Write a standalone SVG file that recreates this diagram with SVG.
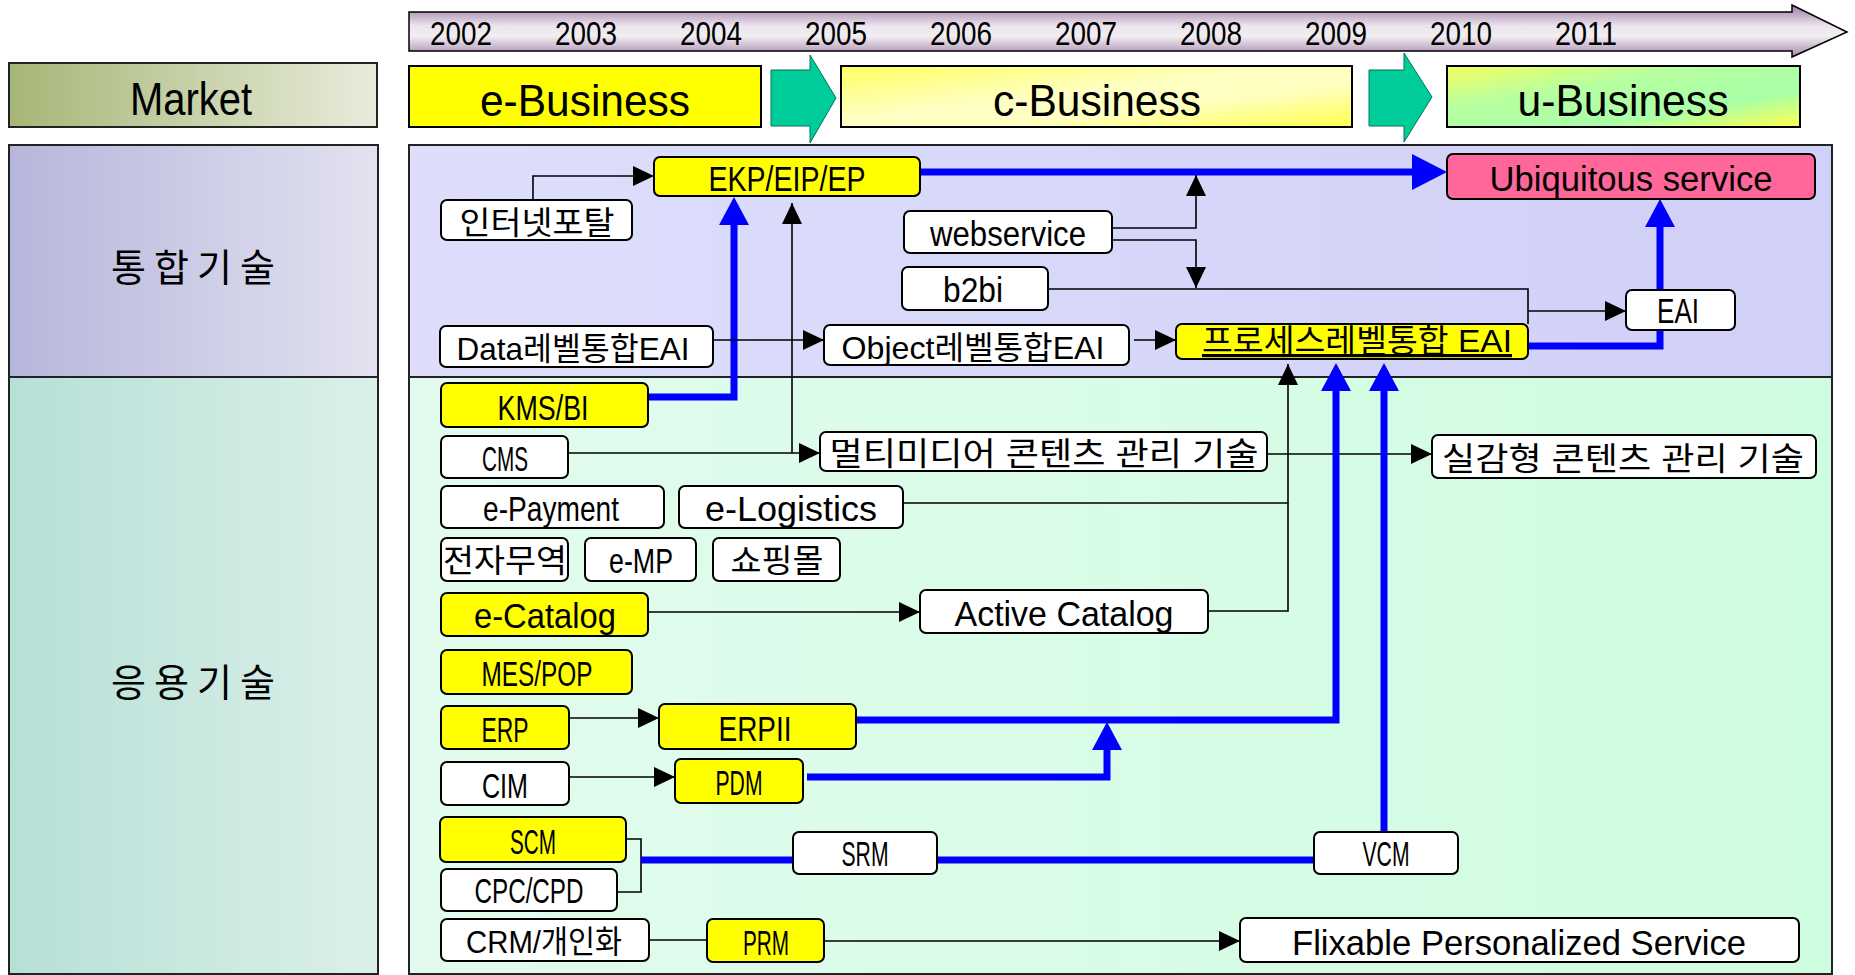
<svg xmlns="http://www.w3.org/2000/svg" width="1855" height="975" viewBox="0 0 1855 975">
<defs>
<style>
.t{font-family:"Liberation Sans","Noto Sans CJK KR",sans-serif;font-size:32px;fill:#000;text-anchor:middle}
.l{font-size:35px}
.yr{font-family:"Liberation Sans",sans-serif;font-size:33px;fill:#000;text-anchor:middle}
.hd{font-family:"Liberation Sans",sans-serif;font-size:45px;fill:#000;text-anchor:middle}
.lb{font-family:"Noto Sans CJK KR","Liberation Sans",sans-serif;font-size:38px;fill:#000;text-anchor:middle}
.bx{stroke:#000;stroke-width:2}
.w{fill:#fff}
.y{fill:#ffff00}
.pk{fill:#ff6699}
.ln{stroke:#000;stroke-width:1.6;fill:none}
.bl{stroke:#0000ff;stroke-width:7;fill:none}
.pnl{stroke:#222;stroke-width:2}
.ga{fill:#00cc99;stroke:#007755;stroke-width:1}
</style>
<linearGradient id="gMk" x1="0" y1="0" x2="1" y2="0"><stop offset="0" stop-color="#a6b676"/><stop offset="1" stop-color="#e8ecdc"/></linearGradient>
<linearGradient id="gInt" x1="0" y1="0" x2="1" y2="0"><stop offset="0" stop-color="#b6b6dc"/><stop offset="1" stop-color="#e2e2f0"/></linearGradient>
<linearGradient id="gApp" x1="0" y1="0" x2="1" y2="0"><stop offset="0" stop-color="#b6e0d6"/><stop offset="1" stop-color="#dcf0ea"/></linearGradient>
<linearGradient id="gRInt" x1="0" y1="0" x2="1" y2="0"><stop offset="0" stop-color="#dedefc"/><stop offset="1" stop-color="#d0d0f8"/></linearGradient>
<linearGradient id="gRApp" x1="0" y1="0" x2="1" y2="0"><stop offset="0" stop-color="#e2fbee"/><stop offset="1" stop-color="#cffde0"/></linearGradient>
<linearGradient id="gTl" x1="0" y1="0" x2="0" y2="1"><stop offset="0" stop-color="#9a7aa2"/><stop offset="0.4" stop-color="#ece4ee"/><stop offset="0.6" stop-color="#f2eef2"/><stop offset="1" stop-color="#a484aa"/></linearGradient>
<linearGradient id="gC" x1="0" y1="0" x2="1" y2="1"><stop offset="0" stop-color="#ffff60"/><stop offset="0.45" stop-color="#ffffc4"/><stop offset="0.65" stop-color="#ffffc0"/><stop offset="1" stop-color="#ffff50"/></linearGradient>
<linearGradient id="gU" x1="0" y1="0" x2="1" y2="1"><stop offset="0" stop-color="#f4ff60"/><stop offset="0.35" stop-color="#b8ffa0"/><stop offset="0.7" stop-color="#a8ffa8"/><stop offset="1" stop-color="#ffff50"/></linearGradient>
<marker id="ab" markerUnits="userSpaceOnUse" markerWidth="22" markerHeight="20" refX="21" refY="10" orient="auto"><path d="M0,0 L21,10 L0,20 z" fill="#000"/></marker>
<marker id="abl" markerUnits="userSpaceOnUse" markerWidth="28" markerHeight="30" refX="8" refY="15" orient="auto"><path d="M0,0 L28,15 L0,30 z" fill="#0000ff"/></marker>
<marker id="abig" markerUnits="userSpaceOnUse" markerWidth="35" markerHeight="36" refX="10" refY="18" orient="auto"><path d="M0,0 L35,18 L0,36 z" fill="#0000ff"/></marker>
</defs>

<rect width="1855" height="975" fill="#fff"/>

<g id="timeline">
<polygon points="409,12 1792,12 1792,5 1847,32 1792,57 1792,51 409,51" fill="url(#gTl)" stroke="#000" stroke-width="1.5"/>
<text class="yr" x="461" y="45" textLength="62" lengthAdjust="spacingAndGlyphs">2002</text>
<text class="yr" x="586" y="45" textLength="62" lengthAdjust="spacingAndGlyphs">2003</text>
<text class="yr" x="711" y="45" textLength="62" lengthAdjust="spacingAndGlyphs">2004</text>
<text class="yr" x="836" y="45" textLength="62" lengthAdjust="spacingAndGlyphs">2005</text>
<text class="yr" x="961" y="45" textLength="62" lengthAdjust="spacingAndGlyphs">2006</text>
<text class="yr" x="1086" y="45" textLength="62" lengthAdjust="spacingAndGlyphs">2007</text>
<text class="yr" x="1211" y="45" textLength="62" lengthAdjust="spacingAndGlyphs">2008</text>
<text class="yr" x="1336" y="45" textLength="62" lengthAdjust="spacingAndGlyphs">2009</text>
<text class="yr" x="1461" y="45" textLength="62" lengthAdjust="spacingAndGlyphs">2010</text>
<text class="yr" x="1586" y="45" textLength="62" lengthAdjust="spacingAndGlyphs">2011</text>
</g>

<g id="market">
<rect x="9" y="63" width="368" height="64" fill="url(#gMk)" class="pnl"/>
<text class="hd" x="191" y="115" textLength="122" lengthAdjust="spacingAndGlyphs" style="font-size:46px">Market</text>
</g>
<g id="e-business">
<rect x="409" y="66" width="352" height="61" class="bx y"/>
<text class="hd" x="585" y="116" textLength="210" lengthAdjust="spacingAndGlyphs">e-Business</text>
</g>
<g id="arrow-1"><polygon class="ga" points="771,70 810,70 810,55 836,98 810,143 810,126 771,126"/></g>
<g id="c-business">
<rect x="841" y="66" width="511" height="61" class="bx" fill="url(#gC)"/>
<text class="hd" x="1097" y="116" textLength="208" lengthAdjust="spacingAndGlyphs">c-Business</text>
</g>
<g id="arrow-2"><polygon class="ga" points="1369,70 1404,70 1404,53 1432,97 1404,142 1404,126 1369,126"/></g>
<g id="u-business">
<rect x="1447" y="66" width="353" height="61" class="bx" fill="url(#gU)"/>
<text class="hd" x="1623" y="116" textLength="211" lengthAdjust="spacingAndGlyphs">u-Business</text>
</g>

<g id="lanes">
<rect x="9" y="145" width="369" height="232" fill="url(#gInt)" class="pnl"/>
<rect x="9" y="377" width="369" height="597" fill="url(#gApp)" class="pnl"/>
<rect x="409" y="145" width="1423" height="232" fill="url(#gRInt)" class="pnl"/>
<rect x="409" y="377" width="1423" height="597" fill="url(#gRApp)" class="pnl"/>
<text class="lb" x="193" y="281" textLength="164" lengthAdjust="spacing">통합기술</text>
<text class="lb" x="193" y="696" textLength="164" lengthAdjust="spacing">응용기술</text>
</g>

<g id="connectors">
<path class="ln" d="M533,200 V176 H654" marker-end="url(#ab)"/>
<path class="bl" d="M648,397 H734 V217" marker-end="url(#abl)"/>
<path class="ln" d="M568,453 H820" marker-end="url(#ab)"/>
<path class="ln" d="M792,453 V203" marker-end="url(#ab)"/>
<path class="ln" d="M1267,454 H1432" marker-end="url(#ab)"/>
<path class="ln" d="M713,340 H824" marker-end="url(#ab)"/>
<path class="ln" d="M1134,340 H1176" marker-end="url(#ab)"/>
<path class="bl" d="M920,172 H1422" marker-end="url(#abig)"/>
<path class="ln" d="M1112,228 H1196 V175" marker-end="url(#ab)"/>
<path class="ln" d="M1112,240 H1196 V288" marker-end="url(#ab)"/>
<path class="ln" d="M1048,289 H1528 V324"/>
<path class="ln" d="M1528,311 H1626" marker-end="url(#ab)"/>
<path class="bl" d="M1528,346 H1660 V219" marker-end="url(#abl)"/>
<path class="ln" d="M903,503 H1288 V364" marker-end="url(#ab)"/>
<path class="ln" d="M1208,611 H1288 V503"/>
<path class="ln" d="M648,612 H920" marker-end="url(#ab)"/>
<path class="ln" d="M569,718 H659" marker-end="url(#ab)"/>
<path class="ln" d="M569,777 H675" marker-end="url(#ab)"/>
<path class="bl" d="M857,720 H1336 V383" marker-end="url(#abl)"/>
<path class="bl" d="M807,777 H1107 V742" marker-end="url(#abl)"/>
<path class="ln" d="M626,839 H641 V892 H617"/>
<path class="bl" d="M641,860 H793"/>
<path class="bl" d="M937,860 H1314"/>
<path class="bl" d="M1384,832 V383" marker-end="url(#abl)"/>
<path class="ln" d="M649,940 H707"/>
<path class="ln" d="M824,941 H1240" marker-end="url(#ab)"/>
</g>

<g id="n-ekp"><rect x="654" y="157" width="266" height="39" rx="6" class="bx y"/><text class="t l" x="787" y="191" textLength="157" lengthAdjust="spacingAndGlyphs">EKP/EIP/EP</text></g>
<g id="n-portal"><rect x="441" y="200" width="191" height="40" rx="6" class="bx w"/><text class="t" x="537" y="234" textLength="155" lengthAdjust="spacingAndGlyphs">인터넷포탈</text></g>
<g id="n-webservice"><rect x="904" y="211" width="208" height="42" rx="6" class="bx w"/><text class="t l" x="1008" y="246" textLength="156" lengthAdjust="spacingAndGlyphs">webservice</text></g>
<g id="n-b2bi"><rect x="902" y="267" width="146" height="43" rx="6" class="bx w"/><text class="t l" x="973" y="302" textLength="60" lengthAdjust="spacingAndGlyphs">b2bi</text></g>
<g id="n-ubiquitous"><rect x="1447" y="154" width="368" height="45" rx="6" class="bx pk"/><text class="t l" x="1631" y="191" textLength="283" lengthAdjust="spacingAndGlyphs">Ubiquitous service</text></g>
<g id="n-data-eai"><rect x="440" y="326" width="273" height="41" rx="6" class="bx w"/><text class="t" x="573" y="360" textLength="233" lengthAdjust="spacingAndGlyphs">Data레벨통합EAI</text></g>
<g id="n-object-eai"><rect x="824" y="325" width="305" height="40" rx="6" class="bx w"/><text class="t" x="973" y="359" textLength="263" lengthAdjust="spacingAndGlyphs">Object레벨통합EAI</text></g>
<g id="n-process-eai"><rect x="1176" y="324" width="352" height="35" rx="6" class="bx y"/><text class="t" x="1357" y="352" textLength="310" lengthAdjust="spacingAndGlyphs" text-decoration="underline">프로세스레벨통합 EAI</text></g>
<g id="n-eai"><rect x="1626" y="290" width="109" height="40" rx="6" class="bx w"/><text class="t l" x="1678" y="323" textLength="42" lengthAdjust="spacingAndGlyphs">EAI</text></g>
<g id="n-kms"><rect x="441" y="383" width="207" height="44" rx="6" class="bx y"/><text class="t l" x="543" y="420" textLength="91" lengthAdjust="spacingAndGlyphs">KMS/BI</text></g>
<g id="n-cms"><rect x="441" y="436" width="127" height="42" rx="6" class="bx w"/><text class="t l" x="505" y="471" textLength="46" lengthAdjust="spacingAndGlyphs">CMS</text></g>
<g id="n-multimedia"><rect x="820" y="432" width="447" height="39" rx="6" class="bx w"/><text class="t" x="1044" y="465" textLength="429" lengthAdjust="spacingAndGlyphs">멀티미디어 콘텐츠 관리 기술</text></g>
<g id="n-realistic"><rect x="1432" y="435" width="384" height="43" rx="6" class="bx w"/><text class="t" x="1623" y="470" textLength="362" lengthAdjust="spacingAndGlyphs">실감형 콘텐츠 관리 기술</text></g>
<g id="n-epayment"><rect x="441" y="486" width="223" height="42" rx="6" class="bx w"/><text class="t l" x="551" y="521" textLength="136" lengthAdjust="spacingAndGlyphs">e-Payment</text></g>
<g id="n-elogistics"><rect x="679" y="486" width="224" height="42" rx="6" class="bx w"/><text class="t l" x="791" y="521" textLength="172" lengthAdjust="spacingAndGlyphs">e-Logistics</text></g>
<g id="n-etrade"><rect x="441" y="538" width="127" height="43" rx="6" class="bx w"/><text class="t" x="505" y="572" textLength="124" lengthAdjust="spacingAndGlyphs">전자무역</text></g>
<g id="n-emp"><rect x="585" y="538" width="111" height="43" rx="6" class="bx w"/><text class="t l" x="641" y="573" textLength="64" lengthAdjust="spacingAndGlyphs">e-MP</text></g>
<g id="n-mall"><rect x="713" y="538" width="127" height="43" rx="6" class="bx w"/><text class="t" x="777" y="572" textLength="93" lengthAdjust="spacingAndGlyphs">쇼핑몰</text></g>
<g id="n-ecatalog"><rect x="441" y="593" width="207" height="43" rx="6" class="bx y"/><text class="t l" x="545" y="628" textLength="142" lengthAdjust="spacingAndGlyphs">e-Catalog</text></g>
<g id="n-active-catalog"><rect x="920" y="590" width="288" height="43" rx="6" class="bx w"/><text class="t l" x="1064" y="626" textLength="219" lengthAdjust="spacingAndGlyphs">Active Catalog</text></g>
<g id="n-mes"><rect x="441" y="650" width="191" height="44" rx="6" class="bx y"/><text class="t l" x="537" y="686" textLength="111" lengthAdjust="spacingAndGlyphs">MES/POP</text></g>
<g id="n-erp"><rect x="441" y="706" width="128" height="43" rx="6" class="bx y"/><text class="t l" x="505" y="742" textLength="47" lengthAdjust="spacingAndGlyphs">ERP</text></g>
<g id="n-erp2"><rect x="659" y="704" width="197" height="45" rx="6" class="bx y"/><text class="t l" x="755" y="741" textLength="73" lengthAdjust="spacingAndGlyphs">ERPII</text></g>
<g id="n-cim"><rect x="441" y="762" width="128" height="43" rx="6" class="bx w"/><text class="t l" x="505" y="798" textLength="46" lengthAdjust="spacingAndGlyphs">CIM</text></g>
<g id="n-pdm"><rect x="675" y="759" width="128" height="44" rx="6" class="bx y"/><text class="t l" x="739" y="795" textLength="47" lengthAdjust="spacingAndGlyphs">PDM</text></g>
<g id="n-scm"><rect x="440" y="817" width="186" height="45" rx="6" class="bx y"/><text class="t l" x="533" y="854" textLength="46" lengthAdjust="spacingAndGlyphs">SCM</text></g>
<g id="n-cpc"><rect x="441" y="869" width="176" height="42" rx="6" class="bx w"/><text class="t l" x="529" y="903" textLength="109" lengthAdjust="spacingAndGlyphs">CPC/CPD</text></g>
<g id="n-srm"><rect x="793" y="832" width="144" height="42" rx="6" class="bx w"/><text class="t l" x="865" y="866" textLength="47" lengthAdjust="spacingAndGlyphs">SRM</text></g>
<g id="n-vcm"><rect x="1314" y="832" width="144" height="42" rx="6" class="bx w"/><text class="t l" x="1386" y="866" textLength="47" lengthAdjust="spacingAndGlyphs">VCM</text></g>
<g id="n-crm"><rect x="441" y="919" width="208" height="42" rx="6" class="bx w"/><text class="t" x="544" y="953" textLength="156" lengthAdjust="spacingAndGlyphs">CRM/개인화</text></g>
<g id="n-prm"><rect x="707" y="919" width="117" height="43" rx="6" class="bx y"/><text class="t l" x="766" y="955" textLength="46" lengthAdjust="spacingAndGlyphs">PRM</text></g>
<g id="n-flexible"><rect x="1240" y="918" width="559" height="44" rx="6" class="bx w"/><text class="t l" x="1519" y="955" textLength="454" lengthAdjust="spacingAndGlyphs">Flixable Personalized Service</text></g>
</svg>
